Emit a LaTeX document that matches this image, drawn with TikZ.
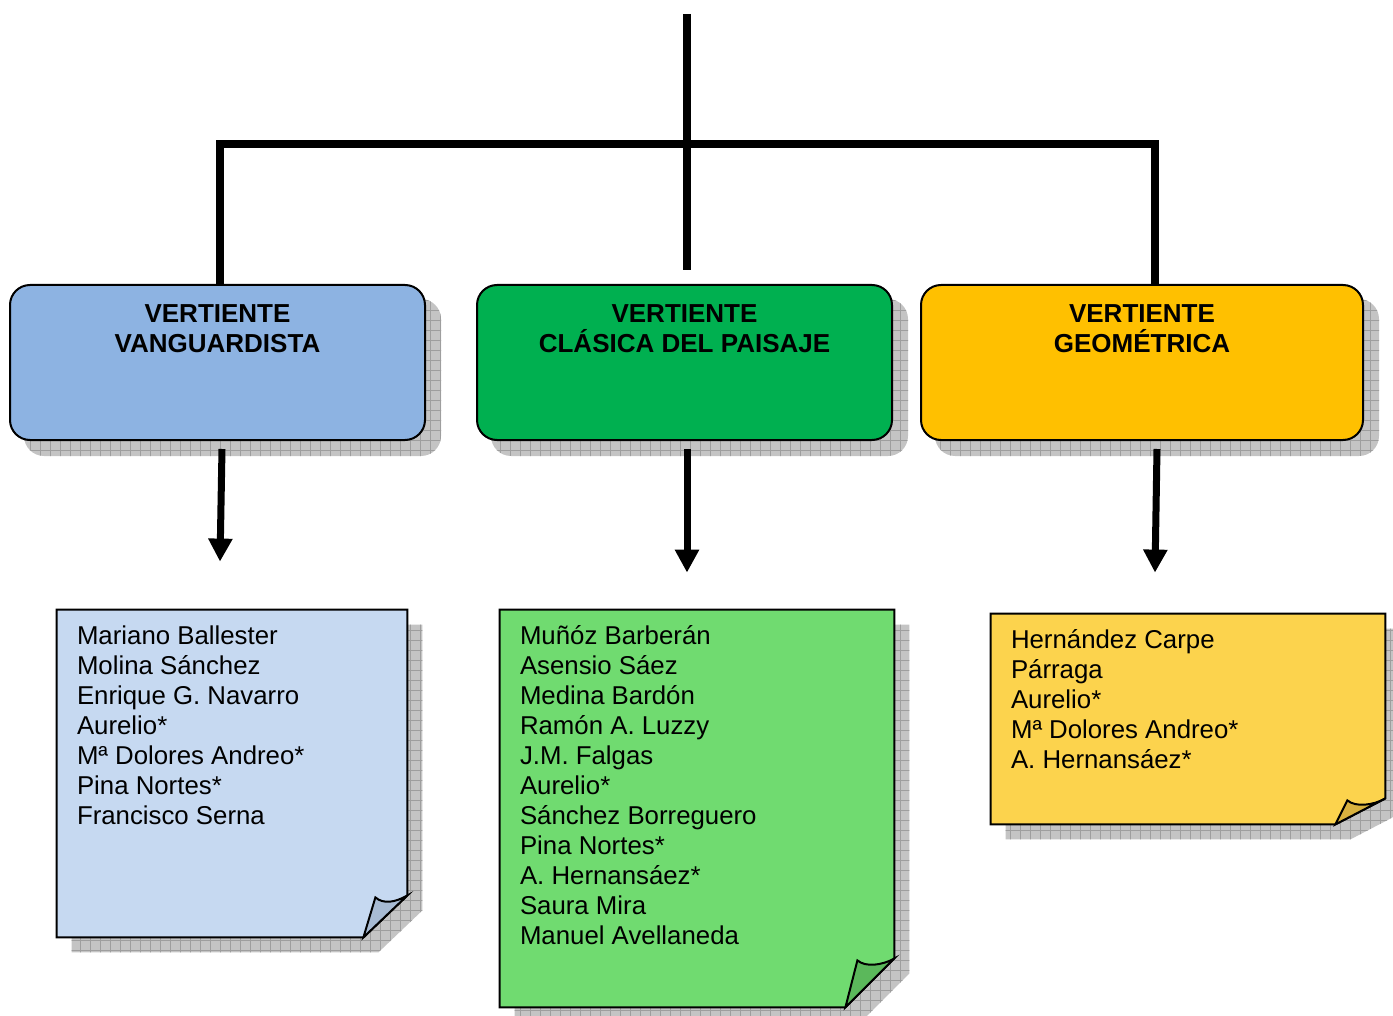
\documentclass[tikz,border=0pt]{standalone}
\usepackage{fontspec}
\setmainfont{Liberation Sans}
\usetikzlibrary{arrows.meta,calc,backgrounds}
\definecolor{vang}{HTML}{8DB3E2}
\definecolor{clas}{HTML}{00B050}
\definecolor{geom}{HTML}{FFC000}
\definecolor{paper1}{HTML}{C6D9F1}
\definecolor{paper2}{HTML}{70DB70}
\definecolor{paper3}{HTML}{FCD34D}
\definecolor{fold1}{HTML}{A8BBD3}
\definecolor{fold2}{HTML}{5BB85B}
\definecolor{fold3}{HTML}{D9B23F}
\begin{document}
\begin{tikzpicture}[
        x=0.5pt, y=-0.5pt,
        bar/.style={line width=3.6pt},
        arr/.style={line width=3.5pt, -{Triangle[width=11.5pt,length=11.5pt]}},
        vbox/.style={draw, line width=1pt, rounded corners=10pt, inner sep=0pt,
            font=\bfseries\fontsize{13}{15}\selectfont},
        note/.style={inner xsep=10pt, inner ysep=0pt, font=\fontsize{12.9}{15}\selectfont},
        shade/.style={fill=black!23},
        shadegrid/.style={draw=black!38, line width=0.4pt},
    ]

    \useasboundingbox (0,0) rectangle (1393,1016);

    \node[vbox, fill=vang](box1) at (217.5,362.5)
        {\parbox[t][77.5pt][t]{207.5pt}{\centering\rule{0pt}{19pt}VERTIENTE\\VANGUARDISTA}};
    \node[vbox, fill=clas](box2) at (684.5,362.5)
        {\parbox[t][77.5pt][t]{207.5pt}{\centering\rule{0pt}{19pt}VERTIENTE\\CLÁSICA DEL PAISAJE}};
    \node[vbox, fill=geom](box3) at (1142,362.5)
        {\parbox[t][77.5pt][t]{221pt}{\centering\rule{0pt}{19pt}VERTIENTE\\GEOMÉTRICA}};

    \node[note](n1) at (232,773.5)
        {\parbox[t][163.5pt][t]{155pt}{\raggedright\rule{0pt}{17pt}Mariano Ballester\\Molina Sánchez\\Enrique G. Navarro\\Aurelio*\\Mª Dolores Andreo*\\Pina Nortes*\\Francisco Serna}};
    \node[note](n2) at (697,808.5)
        {\parbox[t][198.5pt][t]{177pt}{\raggedright\rule{0pt}{17pt}Muñóz Barberán\\Asensio Sáez\\Medina Bardón\\Ramón A. Luzzy\\J.M. Falgas\\Aurelio*\\Sánchez Borreguero\\Pina Nortes*\\A. Hernansáez*\\Saura Mira\\Manuel Avellaneda}};
    \node[note](n3) at (1188,719)
        {\parbox[t][105pt][t]{177pt}{\raggedright\rule{0pt}{17pt}Hernández Carpe\\Párraga\\Aurelio*\\Mª Dolores Andreo*\\A. Hernansáez*}};

    \coordinate (top) at (687,14);
    \coordinate (stem) at (687,270);
    \coordinate (joint) at (687,144);

    \draw[bar] (top) -- (stem);
    \draw[bar] ([xshift=1.25pt]box1.north) |- (joint) -| ([xshift=6.5pt]box3.north);

    \draw[arr] ($(box1.south)+(4.5,8)$) -- ($(n1.north)+(-12,-48)$);
    \draw[arr] ($(box2.south)+(2.5,8)$) -- ($(n2.north)+(-10,-37)$);
    \draw[arr] ($(box3.south)+(15,8)$) -- ($(n3.north)+(-33,-41)$);

    \begin{scope}[on background layer]
        \foreach \b in {box1,box2,box3} {
            \begin{scope}
                \clip[rounded corners=10pt] ($(\b.north west)+(15,15)$) rectangle ($(\b.south east)+(15,15)$);
                \fill[shade] (0,0) rectangle (1393,1030);
                \draw[shadegrid, step=5pt] (0,0) grid (1393,1030);
            \end{scope}
        }
        \foreach \n/\fx/\fy/\pc/\fc in {n1/44/42/paper1/fold1, n2/49/49/paper2/fold2, n3/50/26/paper3/fold3} {
            \coordinate (a) at (\n.north west);
            \coordinate (b) at (\n.north east);
            \coordinate (c) at ($(\n.south east)+(0,-\fy)$);
            \coordinate (d) at ($(\n.south east)+(-\fx,0)$);
            \coordinate (e) at (\n.south west);
            \coordinate (f) at ($(\n.south east)+(-\fx+12,-\fy+2)$);
            \begin{scope}
                \clip ($(a)+(15,15)$) -- ($(b)+(15,15)$) -- ($(c)+(15,15)$) -- ($(d)+(15,15)$) -- ($(e)+(15,15)$) -- cycle;
                \fill[shade] (0,0) rectangle (1393,1030);
                \draw[shadegrid, step=5pt] (0,0) grid (1393,1030);
            \end{scope}
            \draw[line width=1pt, fill=\pc] (a) -- (b) -- (c) -- (d) -- (e) -- cycle;
            \draw[line width=1pt, fill=\fc] (d) -- (f) .. controls ($(f)+(8,7)$) and ($(c)+(-12,7)$) .. (c) -- cycle;
        }
    \end{scope}

\end{tikzpicture}
\end{document}
